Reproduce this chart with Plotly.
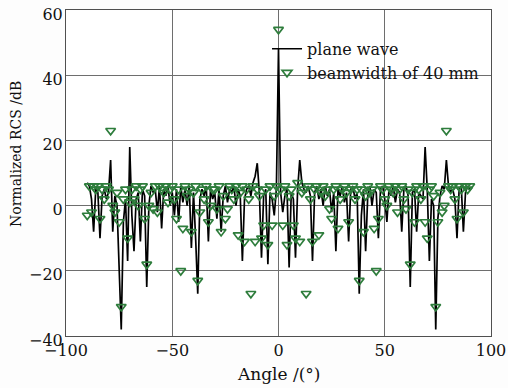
import plotly.graph_objects as go

angles = list(range(-90, 91))

plane_wave = [
    7, 6, 2, -8, 5, 4, -10, 3, 5, 2, 4, 14, -8, 3, 0, -20, -38, -5, 2, -17,
    18, -3, -14, 2, 4, -11, 5, 3, -25, 0, 6, 4, 5, -2, 6, -7, 5, 3, 6, 0,
    4, -3, 5, -5, 6, 1, 5, 0, 6, -13, 4, -10, -27, 2, 5, 3, 6, -11, 5, 2,
    4, -4, 5, -8, 3, 6, 1, 5, 4, 6, 0, 5, 3, -17, 2, 5, 6, 3, 7, 9,
    13, 4, -16, 3, 5, -18, 4, 2, -3, 5,
    48,
    4, -2, 3, 5, -19, 4, 2, -16, 5, 14, 7, 5, 4, 6, 3, -17, 4, 6, 2, 5,
    0, 6, 3, 5, -2, 4, -14, 5, 3, 6, 1, 4, -11, 5, 6, 2, 4, -27, -3, 5,
    -14, 3, 6, 0, 5, 4, -10, 5, 6, 2, -5, 5, 3, 6, 1, 5, 4, -8, 5, 6,
    3, -25, 4, 5, -8, 4, 3, 2, 18, 5, -17, 2, 0, -38, -4, 3, 6, 5, 14, 6,
    4, 5, 2, -10, 5, 6, -8, 4, 6, 5,
]

beamwidth_40mm = [
    -3, 6, -2, 6, 5, 6, -4, 5, 2, 6, 5, 23, 0, -2, 4, -5, -31, 2, 5, -10,
    1, 5, 2, 6, 0, 5, 6, -4, -18, 0, 4, -1, 6, -2, 6, 5, 4, 6, 1, 5,
    6, 2, -4, 5, -20, -7, 6, 3, 5, -8, 4, 6, -23, -2, 5, 2, 6, -5, 0, 5,
    5, -1, 6, -8, 3, -4, -1, 6, 5, 2, 6, -9, 4, 6, -11, 5, 2, -27, 6, -11,
    5, 3, -10, -6, 5, -12, 6, -6, 3, 6,
    54,
    5, -6, 6, -12, 3, 5, -6, -10, 7, -11, 4, 5, -27, 6, 2, -11, 5, 6, -9, 4,
    6, 3, 5, -1, -4, 5, 6, -7, 2, 5, 6, 4, -5, 5, 6, 2, 5, -23, 5, -8,
    3, 6, 4, 5, -7, -20, -4, 6, 5, 2, 0, 6, 5, 4, 6, -2, 5, 6, 2, -1,
    5, -18, 4, -5, 6, 5, 2, 6, -5, -10, 5, 6, 3, -31, -5, 4, -2, 0, 23, 6,
    5, 6, 2, -4, 6, 5, -2, 6, 5, 6,
]

x_ticks = [-100, -50, 0, 50, 100]
y_ticks = [-40, -20, 0, 20, 40, 60]
x_title = "Angle /(°)"
y_title = "Normalized RCS /dB"

font_family = "DejaVu Serif"
text_color = "#111111"
green = "#2e7d3c"

fig = go.Figure()
fig.add_trace(go.Scatter(
    x=angles, y=plane_wave, mode="lines", name="plane wave",
    line=dict(color="black", width=1.7),
))
fig.add_trace(go.Scatter(
    x=angles, y=beamwidth_40mm, mode="markers", name="beamwidth of 40 mm",
    marker=dict(symbol="triangle-down-open", size=8.5,
                color=green, line=dict(width=1.7, color=green)),
))

axis_common = dict(
    showgrid=True, gridcolor="#6e6e6e", gridwidth=1,
    showline=True, linecolor="#505050", linewidth=1, mirror=True,
    zeroline=False, ticks="", automargin=False,
    ticklabeloverflow="allow",
    tickfont=dict(family=font_family, size=16, color=text_color),
)

fig.update_xaxes(range=[-100, 100], tickvals=x_ticks, ticklabelstandoff=0,
                 **axis_common)
fig.update_yaxes(range=[-40, 60], tickvals=y_ticks, ticklabelstandoff=-1,
                 ticklabelshift=4, **axis_common)

fig.add_annotation(text=x_title, xref="paper", yref="paper",
                   x=0.5, y=(336 - 374) / 326, xanchor="center", yanchor="middle",
                   showarrow=False,
                   font=dict(family=font_family, size=17, color=text_color))
fig.add_annotation(text=y_title, xref="paper", yref="paper",
                   x=(16 - 66) / 425, y=(336 - 154) / 326,
                   xanchor="center", yanchor="middle", textangle=-90,
                   showarrow=False,
                   font=dict(family=font_family, size=14, color=text_color))

fig.update_layout(
    width=508, height=388,
    margin=dict(l=66, r=17, t=10, b=52),
    paper_bgcolor="#fdfdfd", plot_bgcolor="white",
    showlegend=True,
    legend=dict(x=0.473, y=0.933, xanchor="left", yanchor="top",
                bgcolor="rgba(0,0,0,0)", borderwidth=0,
                font=dict(family=font_family, size=16, color=text_color),
                itemwidth=30, tracegroupgap=0),
)

# remove the browser's default 8px body margin so the figure fills the window
fig.write_html("out.html",
               config={"displayModeBar": False},
               post_script="document.body.style.margin='0px';document.body.style.overflow='hidden';")
